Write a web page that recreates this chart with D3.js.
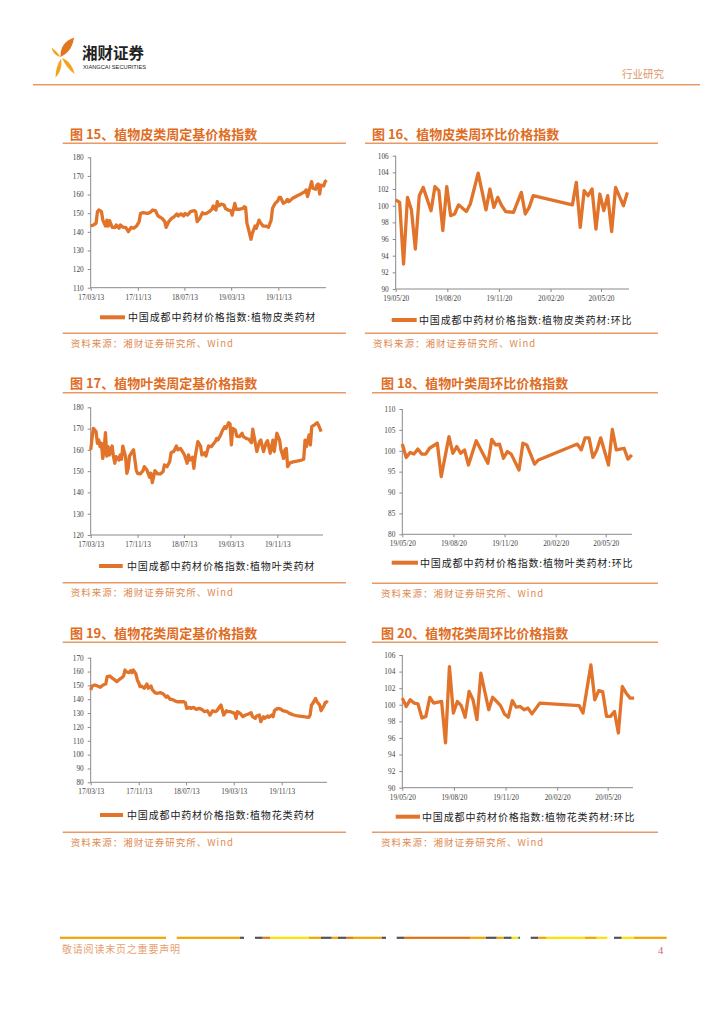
<!DOCTYPE html>
<html>
<head>
<meta charset="utf-8">
<script src="https://cdn.jsdelivr.net/npm/d3@7"></script>
<style>
  body { margin: 0; background: #fff; }
</style>
</head>
<body>
<script>
// ---- data (weeks counted from the first date of each series) ----
const baseStart = "2017-03-13";
const chainStart = "2019-05-20";
const baseTickDates = ["2017-03-13", "2017-11-13", "2018-07-13", "2019-03-13", "2019-11-13"];
const chainTickDates = ["2019-05-20", "2019-08-20", "2019-11-20", "2020-02-20", "2020-05-20"];

// 图15 植物皮类周定基
const barkBaseWeeks = [0,2,4,5,6,8,9,11,12,13,14,16,18,19,21,22,24,26,28,30,32,34,36,37,39,42,44,46,48,50,53,55,56,58,60,62,64,65,67,69,70,72,74,77,78,79,81,83,84,86,88,90,91,93,94,95,97,99,100,102,104,105,107,108,110,113,114,115,116,117,119,120,122,123,125,126,128,130,132,134,135,137,139,140,141,143,145,146,147,150,153,156,159,160,161,163,164,165,167,168,169,170,171,173,174,175];
const barkBaseValues = [143.1,143.7,144.6,150.8,151.7,150.8,146.3,143.1,146.3,143.1,146.0,142.4,142.4,143.7,141.9,143.7,142.4,142.4,140.1,142.4,141.9,143.1,145.5,149.9,150.3,149.9,150.3,151.7,151.4,148.5,147.2,145.5,142.4,145.5,147.2,148.1,149.6,148.5,149.6,148.5,149.9,149.0,150.8,151.4,150.8,145.5,147.2,150.3,149.6,149.9,150.8,152.1,153.9,151.7,156.2,153.9,154.9,154.4,152.6,151.7,151.4,149.0,155.3,152.1,152.1,152.6,153.5,153.1,144.6,141.9,136.0,139.2,143.1,141.9,146.3,144.9,143.1,143.1,142.4,146.3,152.6,155.3,156.7,158.5,158.5,155.3,156.2,157.4,156.2,158.0,159.2,160.3,161.6,162.5,158.9,164.2,166.9,163.4,162.8,165.1,165.7,160.3,165.1,164.6,166.9,167.8];

// 图16 植物皮类周环比
const barkChainWeeks = [0,1,2,3,4,5,6,7,9,10,11,12,13,14,15,16,18,19,21,23,24,25,26,27,28,30,32,33,34,35,45,46,47,48,49,50,51,52,53,54,55,56,58,59];
const barkChainValues = [100.7,100.4,93.0,101.0,99.5,94.8,101.2,102.2,99.4,102.3,101.8,97.0,102.3,98.8,99.0,100.1,99.3,100.2,103.9,99.5,102.0,99.8,101.0,100.0,99.3,99.2,101.6,99.0,99.8,101.2,100.1,102.8,97.4,101.8,101.2,102.0,97.2,101.4,99.4,101.2,96.9,102.2,100.0,101.6];

// 图17 植物叶类周定基
const leafBaseWeeks = [0,1,2,4,5,6,7,8,9,10,11,12,13,14,16,17,18,19,21,22,23,24,26,27,28,29,31,32,34,35,37,39,40,42,44,45,46,48,50,52,54,55,57,59,60,62,64,65,67,69,70,72,73,74,76,77,78,80,82,83,85,86,88,90,91,93,94,95,97,98,100,101,103,104,105,106,108,109,111,113,114,116,118,120,121,122,124,126,127,129,131,132,134,136,137,139,141,142,144,145,146,147,149,152,156,159,160,161,163,164,165,167,169,170,172];
const leafBaseValues = [160,165.4,170.1,168.6,163.1,164.6,161.5,163.1,156,160,168.1,157.1,161.5,157.6,161.8,156.8,153.7,156.8,155.2,157.6,155.6,161.8,156.8,149,151.3,157.1,159.2,160,150.5,149,148.7,150.2,152.1,150.5,147.1,149,144.6,150.2,148.7,148.7,149.8,152.9,152.1,154.5,158.7,159.2,161.8,160,160.7,158.7,157.6,153.7,157.6,155.2,156.5,151.3,156.8,163.9,161.8,157.6,158.7,157.1,161.8,161.5,162.3,163.9,165.4,164.6,167,168.6,170.9,170.1,172.8,172.2,162.3,170.1,169.3,166.5,166.2,167.8,166.2,165.4,165,163.4,169.7,166.2,159.2,163.9,164.6,159.2,163.4,164.3,158.4,164.6,159.2,167.8,164.6,160,156,160,160.7,152.1,154,154.5,154.9,155.6,164.6,161.5,167,162.3,170.9,171.7,172.8,171.7,168.6];

// 图18 植物叶类周环比
const leafChainWeeks = [0,1,2,3,4,5,6,7,9,10,12,13,14,15,16,17,19,21,22,23,24,25,26,27,28,30,31,32,34,35,45,46,47,48,49,50,51,53,54,55,56,57,58,59];
const leafChainValues = [101.6,98.4,99.6,99.2,100.4,99.2,99.2,100.6,101.8,93.8,103.4,99.4,101.0,99.4,100.2,96.6,102.4,98.8,97.0,102.7,101.4,101.6,98.2,99.8,99.2,95.4,101.8,101.4,96.8,97.8,101.6,100.2,103.1,103.1,98.4,100.2,103.1,96.6,105.1,100.2,100.4,100.6,98.0,99.0];

// 图19 植物花类周定基
const flowerBaseWeeks = [0,1,3,5,7,9,11,12,14,15,17,19,21,23,24,25,26,28,29,30,31,33,34,35,36,37,39,40,41,42,44,45,47,48,51,53,55,56,58,59,61,63,66,68,69,70,72,73,75,77,79,81,83,85,87,89,91,92,94,95,96,97,99,100,102,105,106,107,109,111,113,115,117,118,120,121,123,124,126,127,129,130,132,133,134,135,137,139,140,143,145,148,151,155,159,160,161,162,164,165,167,168,170,171,172,173];
const flowerBaseValues = [146.7,149.5,150.3,149.5,148.6,150.3,151,156.3,156.8,155.8,154.4,152.7,154.4,155.8,156.8,161.1,159.9,159.2,160.6,159.2,161.1,158.2,153.9,152,149.1,149.5,147.9,149.5,151,147.9,149.5,146.7,144.7,144.3,144.7,143.8,141.4,142.3,139.9,139.9,139,138.2,138.2,138.2,137.5,133.4,134.1,133.4,134.1,132.7,133.4,132.7,131,131.7,128.6,131.7,131,131.7,134.6,135.8,132.2,128.6,131.7,131,131,129.8,126.2,131,129.8,127.4,128.6,129.3,130.3,127.4,126.2,127.9,128.6,123.8,127.4,126.2,127.9,126.9,128.6,127.4,131.7,132.7,133.4,132.7,131.7,131,129.8,128.6,127.9,127.4,126.9,128.6,135.8,137,140.6,138.2,135.8,131.7,135.1,137.5,138.2,137.5];

// 图20 植物花类周环比
const flowerChainWeeks = [0,1,2,3,4,5,6,7,8,10,11,12,13,14,15,16,17,18,19,20,22,23,24,25,26,27,28,29,30,31,32,33,35,45,46,48,49,50,51,52,53,54,55,56,57,58,59];
const flowerChainValues = [100.8,99.8,100.6,100.2,100.1,98.4,98.6,100.9,100.2,100.4,95.4,104.6,99.0,100.4,99.9,98.5,101.6,100.6,98.2,103.8,99.4,100.9,100.4,99.9,98.9,98.5,100.5,99.7,99.8,99.4,99.6,98.9,100.2,99.9,99.0,104.8,100.6,101.7,101.6,98.6,98.6,99.2,96.6,102.2,101.4,100.8,100.8];

// ---- page ----
const orange = "#e1732a";
const ruleColor = "#e89a66";
const lightText = "#e08a52";
const parseDate = d3.timeParse("%Y-%m-%d");
const fmt = d3.timeFormat("%y/%m/%d");

const svg = d3.select("body").append("svg")
    .attr("width", 724)
    .attr("height", 1024)
    .style("background", "#fff");

//header logo
const logo = svg.append("g");
logo.append("path").attr("fill", "#e2761e")
    .attr("d", "M60.5,57 C60,47 65,41 74,37.5 C73,46 69,53 60.5,57 Z");
logo.append("path").attr("fill", "#f3a31f")
    .attr("d", "M60.5,57 C57.5,52.5 55,50 51.5,47.5 C53,53 56,56 60.5,57 Z");
logo.append("path").attr("fill", "#f3a31f")
    .attr("d", "M61,58.5 C57.5,64 55.5,70 55.5,77.5 C60,73 62.5,66 61,58.5 Z");
logo.append("path").attr("fill", "#f3a31f")
    .attr("d", "M62,58 C67.5,60 72.5,65 74.5,74 C69,70 65,64.5 62,58 Z");

svg.append("text")
    .attr("x", 82).attr("y", 59)
    .attr("font-family", "Noto Sans CJK SC")
    .attr("font-weight", 700)
    .attr("font-size", 15.5)
    .attr("fill", "#222")
    .text("湘财证券");
svg.append("text")
    .attr("x", 83).attr("y", 69)
    .attr("font-family", "Liberation Sans")
    .attr("font-size", 5.4)
    .attr("textLength", 63)
    .attr("lengthAdjust", "spacingAndGlyphs")
    .attr("fill", "#222")
    .text("XIANGCAI SECURITIES");
svg.append("text")
    .attr("x", 622).attr("y", 78)
    .attr("font-family", "Noto Sans CJK SC")
    .attr("font-size", 10.5)
    .attr("fill", "#e0956a")
    .text("行业研究");
svg.append("line")
    .attr("x1", 33).attr("x2", 700)
    .attr("y1", 84.7).attr("y2", 84.7)
    .attr("stroke", "#e69a68")
    .attr("stroke-width", 1.5);

//chart panels
const charts = [
  {title: "图 15、植物皮类周定基价格指数", legend: "中国成都中药材价格指数:植物皮类药材",
   weeks: barkBaseWeeks, values: barkBaseValues, start: baseStart, ticks: baseTickDates,
   yDomain: [110, 180], yTicks: d3.range(110, 181, 10),
   titleX: 70, titleY: 139, ruleX: [62.7, 346], ruleTop: 143.3, ruleBot: 333.3,
   x0: 90.7, xTick: 278.3, xEnd: 326, yTop: 157.3, yBot: 287.7,
   legY: 317.3, legX: [100, 125], legTextX: 128, srcX: 70.7, srcY: 346.5},
  {title: "图 16、植物皮类周环比价格指数", legend: "中国成都中药材价格指数:植物皮类药材:环比",
   weeks: barkChainWeeks, values: barkChainValues, start: chainStart, ticks: chainTickDates,
   yDomain: [90, 106], yTicks: d3.range(90, 107, 2),
   titleX: 372, titleY: 139, ruleX: [365, 658], ruleTop: 143.3, ruleBot: 333.3,
   x0: 395.7, xTick: 601, xEnd: 629, yTop: 155.7, yBot: 289,
   legY: 320, legX: [391.7, 416.7], legTextX: 419, srcX: 373, srcY: 347},
  {title: "图 17、植物叶类周定基价格指数", legend: "中国成都中药材价格指数:植物叶类药材",
   weeks: leafBaseWeeks, values: leafBaseValues, start: baseStart, ticks: baseTickDates,
   yDomain: [120, 180], yTicks: d3.range(120, 181, 10),
   titleX: 70, titleY: 388, ruleX: [62.7, 346], ruleTop: 392.7, ruleBot: 582.7,
   x0: 90.7, xTick: 277.3, xEnd: 323, yTop: 407.3, yBot: 535,
   legY: 566, legX: [99, 122.7], legTextX: 127, srcX: 70.7, srcY: 596},
  {title: "图 18、植物叶类周环比价格指数", legend: "中国成都中药材价格指数:植物叶类药材:环比",
   weeks: leafChainWeeks, values: leafChainValues, start: chainStart, ticks: chainTickDates,
   yDomain: [80, 110], yTicks: d3.range(80, 111, 5),
   titleX: 381, titleY: 388, ruleX: [372, 658], ruleTop: 392.7, ruleBot: 583.3,
   x0: 402.3, xTick: 605.7, xEnd: 632, yTop: 409, yBot: 534.3,
   legY: 562.7, legX: [391.7, 418], legTextX: 420, srcX: 381, srcY: 597},
  {title: "图 19、植物花类周定基价格指数", legend: "中国成都中药材价格指数:植物花类药材",
   weeks: flowerBaseWeeks, values: flowerBaseValues, start: baseStart, ticks: baseTickDates,
   yDomain: [80, 170], yTicks: d3.range(80, 171, 10),
   titleX: 70, titleY: 638, ruleX: [62.7, 346], ruleTop: 642.3, ruleBot: 832.3,
   x0: 90.7, xTick: 281.7, xEnd: 327, yTop: 657.7, yBot: 782.3,
   legY: 815, legX: [100, 123], legTextX: 127, srcX: 70.7, srcY: 845.5},
  {title: "图 20、植物花类周环比价格指数", legend: "中国成都中药材价格指数:植物花类药材:环比",
   weeks: flowerChainWeeks, values: flowerChainValues, start: chainStart, ticks: chainTickDates,
   yDomain: [90, 106], yTicks: d3.range(90, 107, 2),
   titleX: 381, titleY: 638, ruleX: [372, 658], ruleTop: 642.3, ruleBot: 832.3,
   x0: 402.3, xTick: 607.7, xEnd: 633, yTop: 655, yBot: 787.7,
   legY: 816.7, legX: [395.7, 420], legTextX: 422, srcX: 381, srcY: 845.5}
];

function drawChart(c) {
    const g = svg.append("g");
    const start = parseDate(c.start);
    const tickDates = c.ticks.map(parseDate);

    g.append("text")
        .attr("x", c.titleX).attr("y", c.titleY)
        .attr("font-family", "Noto Sans CJK SC")
        .attr("font-weight", 700)
        .attr("font-size", 13)
        .attr("fill", "#e06d1f")
        .text(c.title);

    [c.ruleTop, c.ruleBot].forEach(y => {
        g.append("line")
            .attr("x1", c.ruleX[0]).attr("x2", c.ruleX[1])
            .attr("y1", y).attr("y2", y)
            .attr("stroke", ruleColor)
            .attr("stroke-width", 1.4);
    });

    const x = d3.scaleTime()
        .domain([start, tickDates[tickDates.length - 1]])
        .range([c.x0, c.xTick]);
    const y = d3.scaleLinear()
        .domain(c.yDomain)
        .range([c.yBot, c.yTop]);

    //axes
    const xAxis = g.append("g")
        .attr("transform", `translate(0, ${c.yBot})`)
        .call(d3.axisBottom(x).tickValues(tickDates).tickFormat(fmt).tickSize(3).tickPadding(4));
    const yAxis = g.append("g")
        .attr("transform", `translate(${c.x0}, 0)`)
        .call(d3.axisLeft(y).tickValues(c.yTicks).tickSize(3).tickPadding(4));
    [xAxis, yAxis].forEach(a => {
        a.select(".domain").remove();
        a.selectAll("line").attr("stroke", "#8a8a8a");
        a.selectAll("text")
            .attr("font-family", "Liberation Serif")
            .attr("font-size", 7.3)
            .attr("fill", "#444");
    });
    g.append("line")
        .attr("x1", c.x0).attr("x2", c.xEnd)
        .attr("y1", c.yBot).attr("y2", c.yBot)
        .attr("stroke", "#8a8a8a");
    g.append("line")
        .attr("x1", c.x0).attr("x2", c.x0)
        .attr("y1", c.yTop).attr("y2", c.yBot)
        .attr("stroke", "#8a8a8a");

    //series
    const points = c.weeks.map((w, i) => [d3.timeDay.offset(start, w * 7), c.values[i]]);
    const line = d3.line()
        .x(d => x(d[0]))
        .y(d => y(d[1]));
    g.append("path")
        .datum(points)
        .attr("d", line)
        .attr("fill", "none")
        .attr("stroke", orange)
        .attr("stroke-width", 3.3)
        .attr("stroke-linejoin", "round");

    //legend
    g.append("line")
        .attr("x1", c.legX[0]).attr("x2", c.legX[1])
        .attr("y1", c.legY).attr("y2", c.legY)
        .attr("stroke", orange)
        .attr("stroke-width", 4);
    g.append("text")
        .attr("x", c.legTextX).attr("y", c.legY + 3.8)
        .attr("font-family", "Noto Sans CJK SC")
        .attr("font-size", 10)
        .attr("letter-spacing", 0.85)
        .attr("fill", "#222")
        .text(c.legend);

    //source
    g.append("text")
        .attr("x", c.srcX).attr("y", c.srcY)
        .attr("font-family", "Noto Sans CJK SC")
        .attr("font-size", 9.5)
        .attr("letter-spacing", 1)
        .attr("fill", lightText)
        .text("资料来源：湘财证券研究所、Wind");
}

charts.forEach(drawChart);

//footer bar
const footSegs = [
  [60,166,"#f0a500"],[176.7,240,"#f0a500"],[240,244,"#555"],
  [255,262.7,"#555"],[262.7,270,"#e07a10"],[270,309,"#f8e400"],[309,321,"#f0a500"],[321,331.7,"#555"],
  [331.7,338,"#f0a500"],[338,346,"#555"],[346,353,"#e07a10"],[353,381.7,"#f0a500"],[381.7,386,"#555"],
  [396.7,404,"#555"],[404,470,"#e07010"],[470,486,"#f0a500"],[486,496.7,"#555"],[496.7,504,"#f0a500"],
  [504,511.7,"#555"],[511.7,518.3,"#f8e400"],[518.3,520,"#1a8a7a"],
  [530.7,538.3,"#555"],[538.3,546.7,"#f0a500"],[546.7,585,"#f8e400"],[585,596.7,"#f0a500"],[596.7,607.3,"#f8e400"],
  [614,621.7,"#555"],[621.7,634,"#f8e400"],[634,666.7,"#f0a500"]
];
svg.append("g").selectAll("rect")
    .data(footSegs)
    .enter()
    .append("rect")
    .attr("x", d => d[0])
    .attr("width", d => d[1] - d[0])
    .attr("y", 936.7)
    .attr("height", 2.2)
    .attr("fill", d => d[2]);

svg.append("text")
    .attr("x", 62).attr("y", 953)
    .attr("font-family", "Noto Sans CJK SC")
    .attr("font-size", 10)
    .attr("letter-spacing", 0.8)
    .attr("fill", "#e8a070")
    .text("敬请阅读末页之重要声明");
svg.append("text")
    .attr("x", 658).attr("y", 954)
    .attr("font-family", "Liberation Serif")
    .attr("font-size", 10.5)
    .attr("fill", "#d0607a")
    .text("4");
</script>
</body>
</html>
